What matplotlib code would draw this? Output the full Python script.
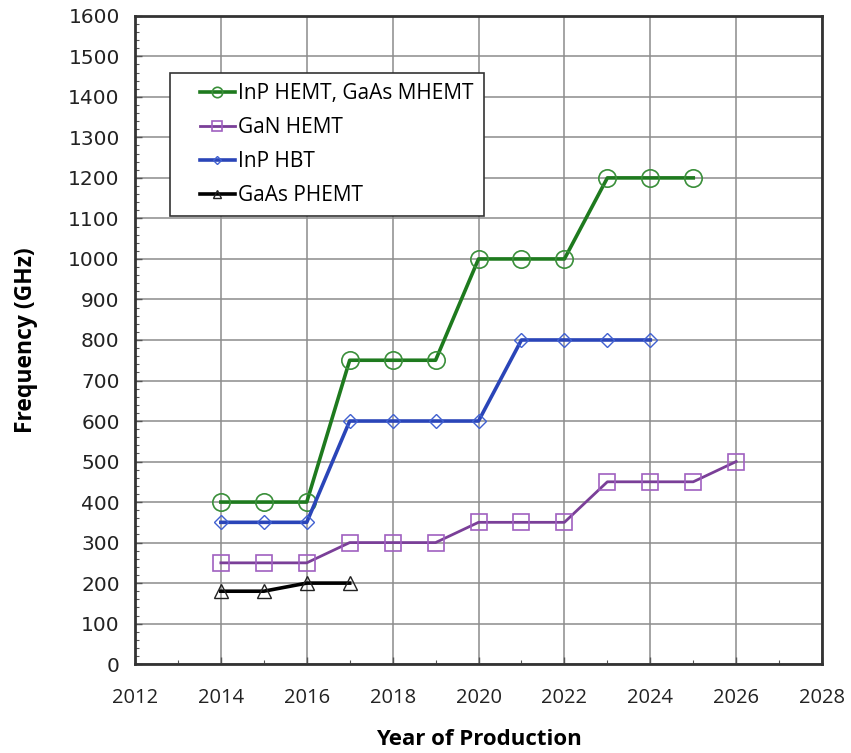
import matplotlib.pyplot as plt
from matplotlib.lines import Line2D
from matplotlib.legend_handler import HandlerLine2D
from matplotlib.ticker import MultipleLocator

# data
years_inp_hemt = [2014, 2015, 2016, 2017, 2018, 2019, 2020, 2021, 2022, 2023, 2024, 2025]
freq_inp_hemt = [400, 400, 400, 750, 750, 750, 1000, 1000, 1000, 1200, 1200, 1200]

years_gan = [2014, 2015, 2016, 2017, 2018, 2019, 2020, 2021, 2022, 2023, 2024, 2025, 2026]
freq_gan = [250, 250, 250, 300, 300, 300, 350, 350, 350, 450, 450, 450, 500]

years_hbt = [2014, 2015, 2016, 2017, 2018, 2019, 2020, 2021, 2022, 2023, 2024]
freq_hbt = [350, 350, 350, 600, 600, 600, 600, 800, 800, 800, 800]

years_phemt = [2014, 2015, 2016, 2017]
freq_phemt = [180, 180, 200, 200]

fig = plt.figure(figsize=(8.51, 7.53), dpi=100)
ax = fig.add_axes([0.1586, 0.118, 0.8074, 0.861])

ax.plot(years_inp_hemt, freq_inp_hemt, color='#1e7a1e', lw=2.6, marker='o', ms=12.5,
        mfc='none', mec='#3a8f3a', mew=1.2, label='InP HEMT, GaAs MHEMT', zorder=5)
ax.plot(years_gan, freq_gan, color='#7a3f98', lw=2.0, marker='s', ms=11,
        mfc='none', mec='#a060c0', mew=1.2, label='GaN HEMT', zorder=4)
ax.plot(years_hbt, freq_hbt, color='#2a45b8', lw=2.6, marker='D', ms=7.5,
        mfc='none', mec='#4060d0', mew=1.0, label='InP HBT', zorder=5)
ax.plot(years_phemt, freq_phemt, color='black', lw=2.6, marker='^', ms=10,
        mfc='none', mec='#222222', mew=1.0, label='GaAs PHEMT', zorder=5)

ax.set_xlim(2012, 2028)
ax.set_ylim(0, 1600)
ax.xaxis.set_major_locator(MultipleLocator(2))
ax.xaxis.set_minor_locator(MultipleLocator(1))
ax.yaxis.set_major_locator(MultipleLocator(100))
ax.yaxis.set_minor_locator(MultipleLocator(20))
ax.grid(True, which='major', color='#8c8c8c', lw=1.1)
ax.tick_params(which='both', direction='in', colors='#555555')
ax.tick_params(which='major', length=5, width=1)
ax.tick_params(which='minor', length=3, width=0.8)
ax.tick_params(axis='x', labelsize=14.5, labelcolor='#222222', pad=17)
ax.tick_params(axis='y', labelsize=14.5, labelcolor='#222222', pad=11)
for lab in ax.get_xticklabels():
    lab.set_fontfamily('Open Sans')
for s in ax.spines.values():
    s.set_linewidth(2.0)
    s.set_color('#333333')

ax.set_xlabel('Year of Production', fontsize=16, fontweight='bold',
              fontfamily='Open Sans')
ax.set_ylabel('Frequency (GHz)', fontsize=16.5, fontweight='bold',
              fontfamily='Open Sans')
ax.xaxis.set_label_coords(0.5, -0.100)
ax.yaxis.set_label_coords(-0.141, 0.5)

# handle pushed right inside the box, like the original legend
leg = ax.legend(loc='upper left', bbox_to_anchor=(0.051, 0.912), borderaxespad=0,
                fancybox=False, edgecolor='#333333', framealpha=1,
                prop={'family': 'Open Sans', 'size': 15}, handlelength=2.6,
                handletextpad=0.15, labelspacing=0.62, borderpad=0.5,
                markerscale=0.6, handler_map={Line2D: HandlerLine2D(xpad=0.95)})
leg.get_frame().set_linewidth(1.2)

fig.savefig('out.png', dpi=100)
